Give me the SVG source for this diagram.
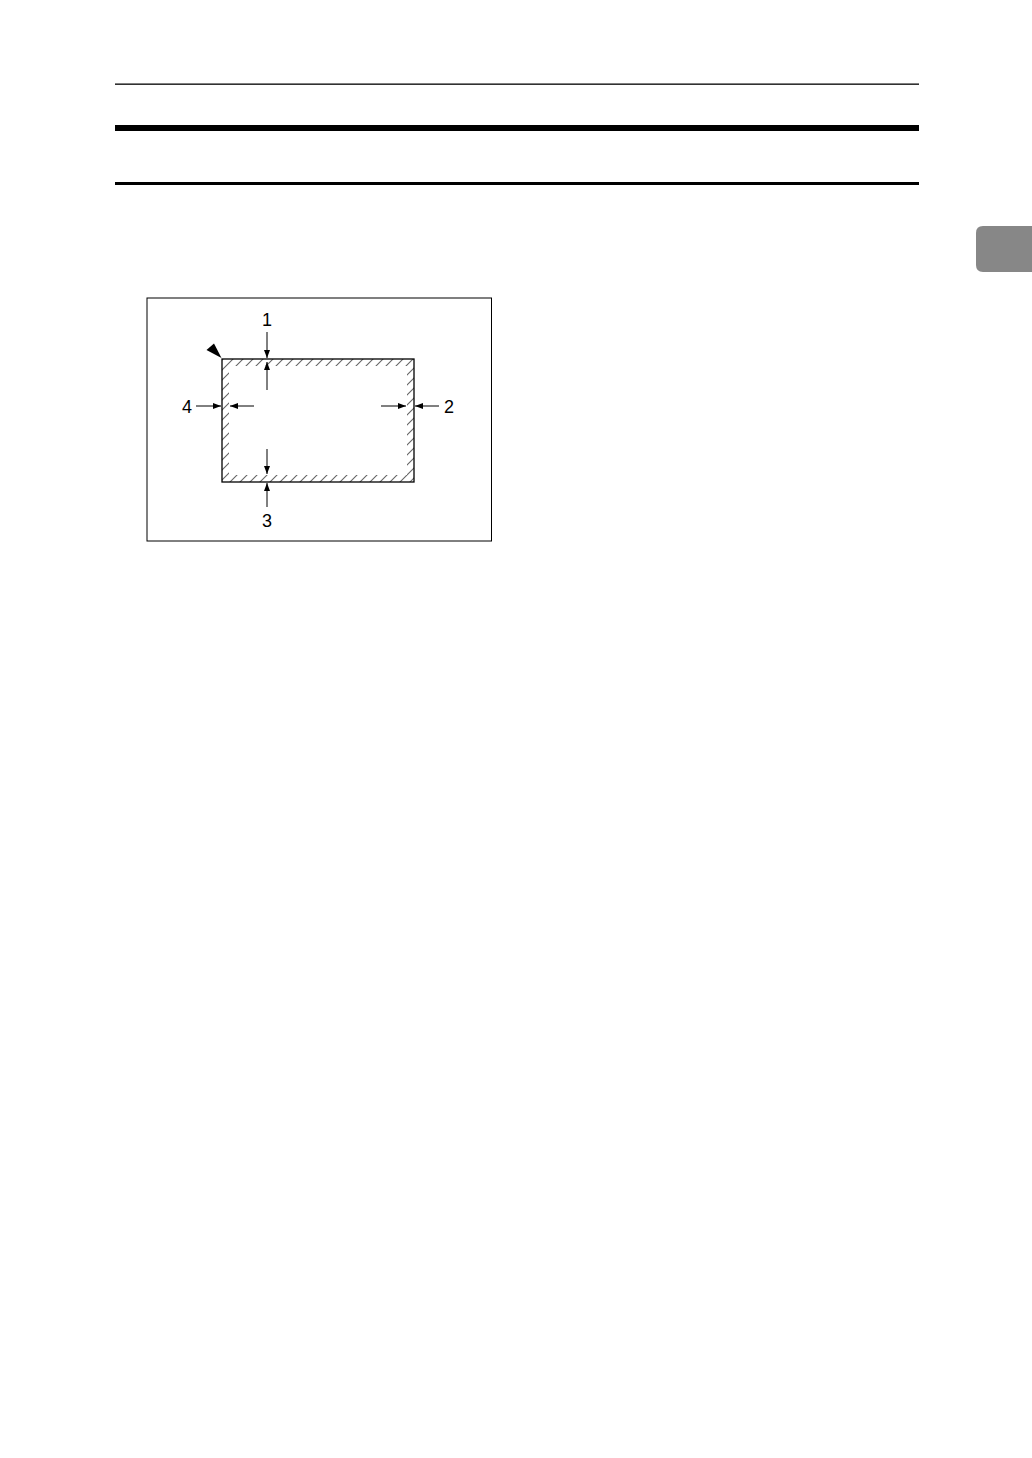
<svg xmlns="http://www.w3.org/2000/svg" width="1032" height="1458" viewBox="0 0 1032 1458">
  <style>
    .lbl { font-family: "Liberation Sans", Arial, sans-serif; font-size: 18px; fill: #000; text-anchor: middle; }
    .arr { stroke: #000; stroke-width: 1; fill: none; marker-end: url(#ah); }
  </style>
  <defs>
    <marker id="ah" viewBox="0 0 8 6" refX="8" refY="3" markerWidth="8" markerHeight="6" markerUnits="userSpaceOnUse" orient="auto">
      <path d="M0,0 L8,3 L0,6 Z" fill="#000"/>
    </marker>
    <pattern id="hatch" patternUnits="userSpaceOnUse" width="10" height="10" x="2" y="0">
      <path d="M0,10 L10,0 M-1,1 L1,-1 M9,11 L11,9" stroke="#666" stroke-width="1.1"/>
    </pattern>
  </defs>
  <rect width="1032" height="1458" fill="#fff"/>

  <g id="page-rules">
    <rect x="115" y="83.5" width="804" height="1.3" fill="#000"/>
    <rect x="115" y="125" width="804" height="6" fill="#000"/>
    <rect x="115" y="182" width="804" height="3" fill="#000"/>
  </g>

  <g id="tab">
    <path d="M983,226 L1032,226 L1032,272 L983,272 Q976,272 976,265 L976,233 Q976,226 983,226 Z" fill="#878787"/>
  </g>

  <g id="frame">
    <rect x="147" y="298" width="344.5" height="243" fill="none" stroke="#000" stroke-width="1"/>
  </g>

  <g id="paper">
    <path d="M222,359 H414 V482 H222 Z M229,366 V475 H407 V366 Z" fill="url(#hatch)" fill-rule="evenodd"/>
    <rect x="222" y="359" width="192" height="123" fill="none" stroke="#000" stroke-width="1.3"/>
    <path d="M206.5,350 L214,343.5 L221.5,358 Z" fill="#000"/>
  </g>

  <g id="connectors">
    <line class="arr" x1="267" y1="332" x2="267" y2="358"/>
    <line class="arr" x1="267" y1="390" x2="267" y2="362"/>
    <line class="arr" x1="439" y1="406" x2="415" y2="406"/>
    <line class="arr" x1="381" y1="406" x2="406" y2="406"/>
    <line class="arr" x1="267" y1="507" x2="267" y2="483"/>
    <line class="arr" x1="267" y1="449" x2="267" y2="474"/>
    <line class="arr" x1="196" y1="406" x2="221" y2="406"/>
    <line class="arr" x1="254" y1="406" x2="230" y2="406"/>
  </g>

  <g id="label-1"><text class="lbl" x="267" y="326">1</text></g>
  <g id="label-2"><text class="lbl" x="449" y="413">2</text></g>
  <g id="label-3"><text class="lbl" x="267" y="527">3</text></g>
  <g id="label-4"><text class="lbl" x="187" y="413">4</text></g>
</svg>
